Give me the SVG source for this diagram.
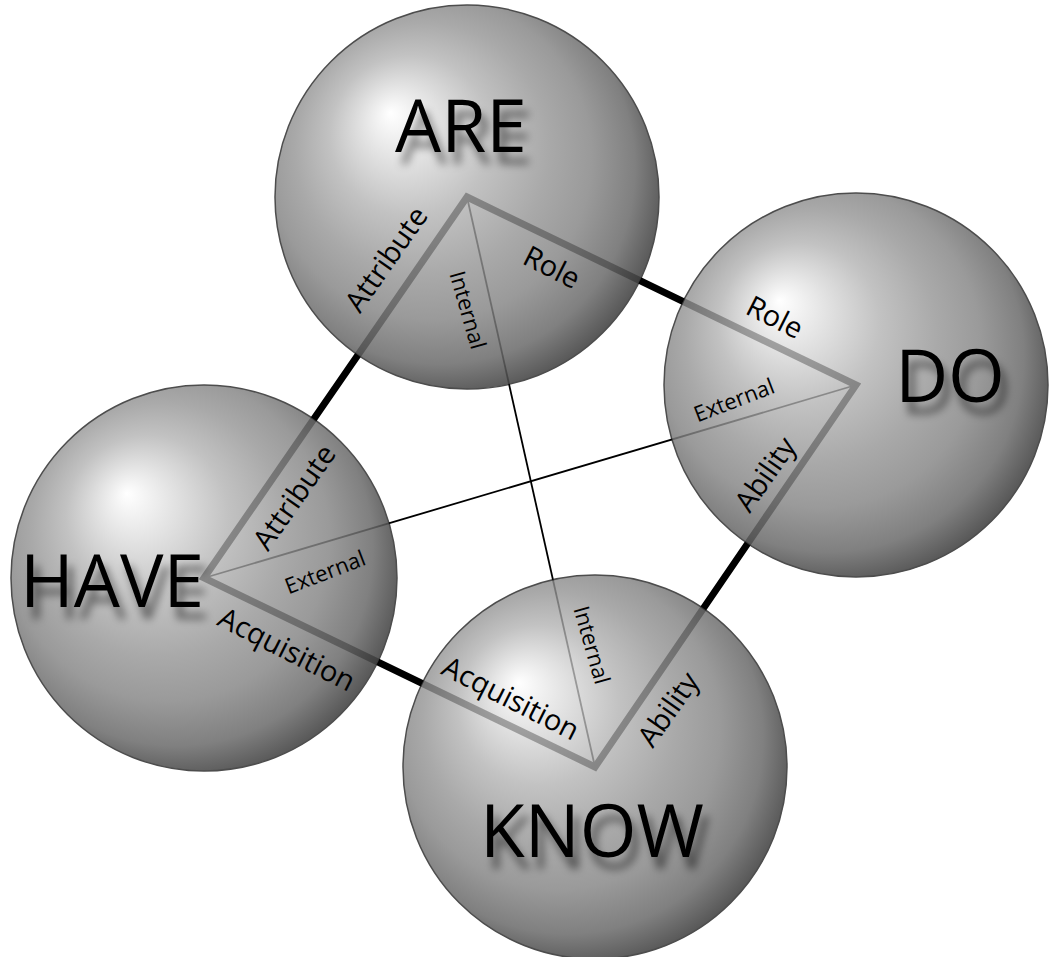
<svg xmlns="http://www.w3.org/2000/svg" width="1052" height="957" viewBox="0 0 1052 957">
<style>
.ball{stroke:#4d4d4d;stroke-width:1.5;fill:url(#sph)}
.big{font-family:"Open Sans","Liberation Sans",sans-serif;font-size:73px;fill:#000;text-anchor:middle;filter:url(#shd)}
.lbl{font-family:"Open Sans","Liberation Sans",sans-serif;font-size:29px;fill:#000;text-anchor:middle}
.sm{font-family:"Open Sans","Liberation Sans",sans-serif;font-size:22px;fill:#000;text-anchor:middle}
.thick{fill:none;stroke:#000;stroke-width:7;stroke-linejoin:miter}
.thin{fill:none;stroke:#000;stroke-width:1.8}
</style>
<defs>
<radialGradient id="sph" cx="0.45" cy="0.45" r="0.6" fx="0.3" fy="0.28">
<stop offset="0" stop-color="#ffffff"/>
<stop offset="0.12" stop-color="#eaeaea"/>
<stop offset="0.35" stop-color="#c2c2c2"/>
<stop offset="0.55" stop-color="#a9a9a9"/>
<stop offset="0.7" stop-color="#9a9a9a"/>
<stop offset="0.85" stop-color="#808080"/>
<stop offset="1" stop-color="#4a4a4a"/>
</radialGradient>
<filter id="shd" x="-20%" y="-30%" width="150%" height="180%">
<feGaussianBlur in="SourceAlpha" stdDeviation="4.5"/>
<feOffset dx="6" dy="12" result="b"/>
<feComponentTransfer in="b" result="c"><feFuncA type="linear" slope="0.5"/></feComponentTransfer>
<feMerge><feMergeNode in="c"/><feMergeNode in="SourceGraphic"/></feMerge>
</filter>
<mask id="m" maskUnits="userSpaceOnUse" x="0" y="0" width="1052" height="957" style="mask-type:alpha">
<path fill="#000" fill-rule="evenodd" d="M0,0H1052V957H0Z M275,197a192,192 0 1,0 384,0a192,192 0 1,0 -384,0Z M664,385a192,192 0 1,0 384,0a192,192 0 1,0 -384,0Z M11,578a193,193 0 1,0 386,0a193,193 0 1,0 -386,0Z M403,767a192,192 0 1,0 384,0a192,192 0 1,0 -384,0Z"/>
<g fill="#000" fill-opacity="0.3">
<circle cx="467" cy="197" r="192"/>
<circle cx="856" cy="385" r="192"/>
<circle cx="204" cy="578" r="193"/>
<circle cx="595" cy="767" r="192"/>
</g>
</mask>
</defs>
<rect width="1052" height="957" fill="#fff"/>
<g id="node-are"><circle class="ball" cx="467" cy="197" r="192"/></g>
<g id="node-do"><circle class="ball" cx="856" cy="385" r="192"/></g>
<g id="node-have"><circle class="ball" cx="204" cy="578" r="193"/></g>
<g id="node-know"><circle class="ball" cx="595" cy="767" r="192"/></g>
<g id="connectors" mask="url(#m)">
<path class="thick" d="M467,197 L856,385 L595,767 L204,578 Z"/>
<line class="thin" x1="467" y1="197" x2="595" y2="767"/>
<line class="thin" x1="204" y1="578" x2="856" y2="385"/>
</g>
<g id="labels">
<text class="big" x="461" y="152">ARE</text>
<text class="big" x="950" y="402">DO</text>
<text class="big" x="112" y="607">HAVE</text>
<text class="big" x="592" y="857">KNOW</text>
<text class="lbl" transform="translate(386,259) rotate(-55)" dy=".36em">Attribute</text>
<text class="lbl" transform="translate(552,267) rotate(27)" dy=".36em">Role</text>
<text class="sm" transform="translate(468,310) rotate(74)" dy=".36em">Internal</text>
<text class="lbl" transform="translate(775,317) rotate(27)" dy=".36em">Role</text>
<text class="sm" transform="translate(734,400) rotate(-21)" dy=".36em">External</text>
<text class="lbl" transform="translate(765,474) rotate(-55)" dy=".36em">Ability</text>
<text class="lbl" transform="translate(294,497) rotate(-55)" dy=".36em">Attribute</text>
<text class="sm" transform="translate(325,572) rotate(-21)" dy=".36em">External</text>
<text class="lbl" transform="translate(287,649) rotate(27)" dy=".36em">Acquisition</text>
<text class="lbl" transform="translate(511,698) rotate(27)" dy=".36em">Acquisition</text>
<text class="sm" transform="translate(592,645) rotate(74)" dy=".36em">Internal</text>
<text class="lbl" transform="translate(668,709) rotate(-55)" dy=".36em">Ability</text>
</g>
</svg>
